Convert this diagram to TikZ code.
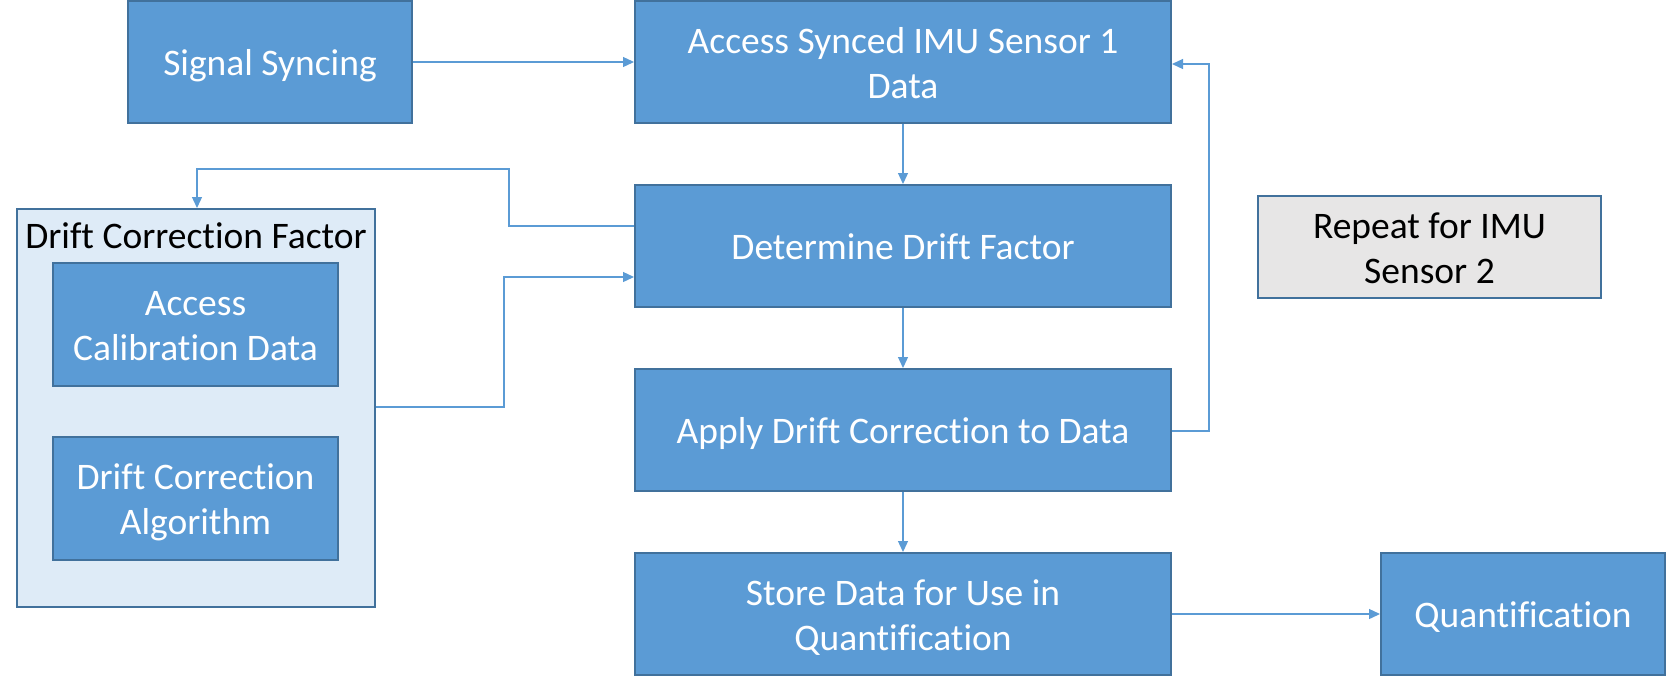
\documentclass[tikz,border=0pt]{standalone}
\usepackage{fontspec}
\setmainfont{Carlito}[Ligatures=NoCommon]
\usetikzlibrary{arrows.meta,calc}
\definecolor{boxfill}{HTML}{5B9BD5}
\definecolor{boxline}{HTML}{41719C}
\definecolor{contfill}{HTML}{DEEBF7}
\definecolor{repfill}{HTML}{E7E6E6}
\definecolor{conn}{HTML}{5B9BD5}
\newcommand{\boxstrut}{\rule[-9pt]{0pt}{44pt}}
\newcommand{\twolines}[2]{\raisebox{-3pt}[\height][\depth]{\begin{tabular}[t]{@{}c@{}}#1\\#2\end{tabular}}}
\tikzset{
  txtbox/.style={line width=2pt, align=center, inner sep=0pt,
    font=\fontsize{37.5}{45}\selectfont,
    execute at begin node={\boxstrut}, execute at end node={\boxstrut}},
  multiline/.style={execute at begin node={}, execute at end node={}},
  bluebox/.style={txtbox, draw=boxline, fill=boxfill, text=white},
  repbox/.style={txtbox, draw=boxline, fill=repfill, text=black},
  contbox/.style={draw=boxline, fill=contfill, line width=2pt, inner sep=0pt},
  conn/.style={draw=conn, line width=1.3pt, -{Triangle[length=11pt,width=10pt]}},
}
\begin{document}
\begin{tikzpicture}[x=1pt,y=-1pt]
\useasboundingbox (0,0) rectangle (1667,683);
% container
\node[contbox, minimum width=358, minimum height=398] (cont) at (196,408) {};
\node[font=\fontsize{37.5}{45}\selectfont, text=black, inner sep=0pt] (contlbl) at (196,236) {Drift Correction Factor};
\node[bluebox, multiline, minimum width=285, minimum height=123] (cal) at (195.5,324.5) {\twolines{Access}{Calibration Data}};
\node[bluebox, multiline, minimum width=285, minimum height=123] (alg) at (195.5,498.5) {\twolines{Drift Correction}{Algorithm}};
% main boxes
\node[bluebox, minimum width=284, minimum height=122] (sig) at (270,62) {Signal Syncing};
\node[bluebox, multiline, minimum width=536, minimum height=122] (acc) at (903,62) {\twolines{Access Synced IMU Sensor 1}{Data}};
\node[bluebox, minimum width=536, minimum height=122] (det) at (903,246) {Determine Drift Factor};
\node[bluebox, minimum width=536, minimum height=122] (app) at (903,430) {Apply Drift Correction to Data};
\node[bluebox, multiline, minimum width=536, minimum height=122] (sto) at (903,614) {\twolines{Store Data for Use in}{Quantification}};
\node[bluebox, minimum width=284, minimum height=122] (qua) at (1523,614) {Quantification};
\node[repbox, multiline, minimum width=343, minimum height=102] (rep) at (1429.5,247) {\twolines{Repeat for IMU}{Sensor 2}};
% connectors
\draw[conn] (sig.east) -- (sig.east -| acc.west);
\draw[conn] (acc.south) -- (det.north);
\draw[conn] (det.south) -- (app.north);
\draw[conn] (app.south) -- (sto.north);
\draw[conn] (sto.east) -- (qua.west);
\coordinate (loopA) at (1209,431);
\coordinate (loopB) at (1209,64);
\draw[conn] (app.east |- loopA) -- (loopA) -- (loopB) -- (acc.east |- loopB);
\coordinate (upA) at (509,226);
\coordinate (upB) at (509,169);
\coordinate (upC) at (197,169);
\draw[conn] (det.west |- upA) -- (upA) -- (upB) -- (upC) -- (upC |- cont.north);
\coordinate (inA) at (504,407);
\coordinate (inB) at (504,277);
\draw[conn] (cont.east |- inA) -- (inA) -- (inB) -- (det.west |- inB);
\end{tikzpicture}
\end{document}
